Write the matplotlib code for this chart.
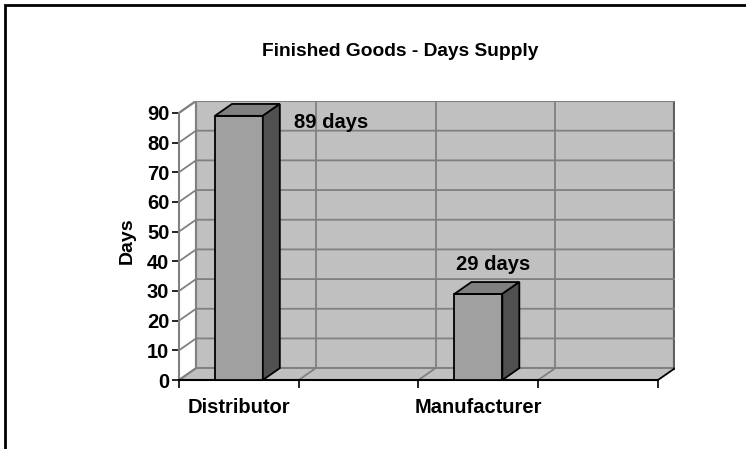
import matplotlib.pyplot as plt
from matplotlib.patches import Polygon, Rectangle

categories = ["Distributor", "", "Manufacturer", ""]
days = [89, None, 29, None]
bar_labels = ["89 days", "", "29 days", ""]
yticks = [0, 10, 20, 30, 40, 50, 60, 70, 80, 90]

title = "Finished Goods - Days Supply"
ylabel = "Days"

plt.rcParams['font.family'] = ['Liberation Sans', 'DejaVu Sans']
plt.rcParams['font.weight'] = 'bold'

WALL = '#c0c0c0'
GRID = '#808080'
DX, DY = 0.142, 4.0     # fake 3d depth, in data units
BW = 0.2                # half bar width
ymax = max(yticks)
x0, x1 = -0.5, len(categories) - 0.5

fig = plt.figure(figsize=(7.46, 4.49), dpi=100)
ax = fig.add_axes([179 / 746, 1 - 380 / 449, 496 / 746, 279 / 449])
ax.set_xlim(x0, x1 + DX)
ax.set_ylim(0, ymax + DY)
ax.patch.set_visible(False)

# walls and floor
ax.add_patch(Polygon([(x0 + DX, DY), (x1 + DX, DY), (x1 + DX, ymax + DY), (x0 + DX, ymax + DY)],
                     closed=True, fc=WALL, ec=GRID, lw=1.5, zorder=1))
ax.add_patch(Polygon([(x0, 0), (x1, 0), (x1 + DX, DY), (x0 + DX, DY)],
                     closed=True, fc=WALL, ec=GRID, lw=1.2, zorder=1))
ax.plot([x0, x0 + DX, x0 + DX], [ymax, ymax + DY, DY], color=GRID, lw=1.5, zorder=2)
ax.plot([x0, x0 + DX], [0, DY], color=GRID, lw=1.5, zorder=2)
ax.plot([x1 + DX, x1 + DX], [DY, ymax + DY], color='#606060', lw=3, zorder=2)
ax.plot([x1, x1 + DX], [0, DY], color='black', lw=1.2, zorder=2)

# gridlines
for v in yticks[1:]:
    ax.plot([x0, x0 + DX, x1 + DX], [v, v + DY, v + DY], color=GRID, lw=1.3, zorder=2)
for b in range(len(categories) - 1):
    xb = b + 0.5
    ax.plot([xb + DX, xb + DX], [DY, ymax + DY], color=GRID, lw=1.3, zorder=2)
    ax.plot([xb, xb + DX], [0, DY], color=GRID, lw=1.3, zorder=2)

# bars
for i, v in enumerate(days):
    if v is None:
        continue
    ax.add_patch(Rectangle((i - BW, 0), 2 * BW, v, fc='#a0a0a0', ec='black', lw=1.3, zorder=4))
    ax.add_patch(Polygon([(i - BW, v), (i + BW, v), (i + BW + DX, v + DY), (i - BW + DX, v + DY)],
                         closed=True, fc='#808080', ec='black', lw=1.3, zorder=4))
    ax.add_patch(Polygon([(i + BW, 0), (i + BW + DX, DY), (i + BW + DX, v + DY), (i + BW, v)],
                         closed=True, fc='#505050', ec='black', lw=1.3, zorder=4))
    if v + DY + 10 > ymax:
        ax.text(i + BW + DX + 0.12, v - 2.3, bar_labels[i], ha='left', va='center',
                fontsize=14.5, fontweight='bold', zorder=5)
    else:
        ax.text(i + DX / 2 + 0.05, v + DY + 6, bar_labels[i], ha='center', va='center',
                fontsize=14.5, fontweight='bold', zorder=5)

# axes
for s in ['top', 'right']:
    ax.spines[s].set_visible(False)
ax.spines['left'].set_bounds(0, ymax)
ax.spines['left'].set_color(GRID)
ax.spines['left'].set_linewidth(1.5)
ax.spines['bottom'].set_bounds(x0, x1)
ax.spines['bottom'].set_linewidth(1.5)
ax.spines['left'].set_zorder(3)
ax.spines['bottom'].set_zorder(3)

ax.set_yticks(yticks)
ax.set_yticklabels([str(t) for t in yticks], fontsize=14.5, fontweight='bold')
ax.tick_params(axis='y', length=5, width=1.2, color='black', pad=2)
ax.set_xticks([b - 0.5 for b in range(len(categories) + 1)])
ax.set_xticklabels([])
ax.set_xticks(range(len(categories)), minor=True)
ax.set_xticklabels(categories, minor=True, fontsize=14.5, fontweight='bold')
ax.tick_params(axis='x', which='major', length=6, width=1.2)
ax.tick_params(axis='x', which='minor', length=0, pad=13)
ax.set_ylabel(ylabel, fontsize=14, fontweight='bold', labelpad=8)

fig.text(400 / 746, 1 - 51 / 449, title, ha='center', va='center', fontsize=13.8, fontweight='bold')

# chart frame (runs off the right and bottom edges)
fig.patches.append(Rectangle((5 / 746, -0.1), 1.2, 1 - 5 / 449 + 0.1, transform=fig.transFigure,
                             fill=False, ec='black', lw=2))

fig.savefig('out.png', dpi=100)
